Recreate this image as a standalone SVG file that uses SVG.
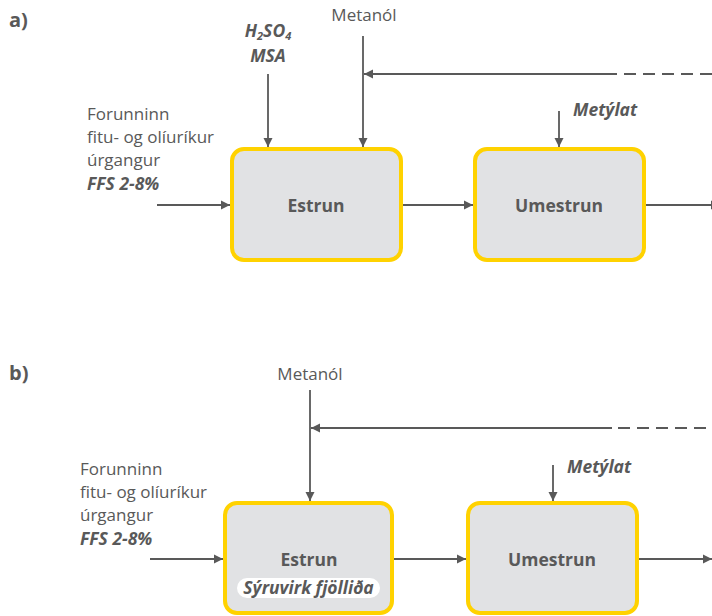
<svg xmlns="http://www.w3.org/2000/svg" width="712" height="616" viewBox="0 0 712 616">
  <style>
    .t { font-family: "Open Sans", "DejaVu Sans", sans-serif; fill: #595959; }
    .lbl { font-size: 17px; }
    .bi { font-size: 17.5px; font-weight: bold; font-style: italic; }
    .title { font-size: 20px; font-weight: bold; }
    .box { fill: #e1e2e4; stroke: #ffd200; stroke-width: 4; }
    .name { font-size: 17.5px; font-weight: bold; text-anchor: middle; }
    .ln { stroke: #595959; stroke-width: 1.8; fill: none; }
    .dash { stroke-dasharray: 12 7; }
  </style>
  <defs>
    <marker id="arr" viewBox="0 0 10 10" refX="10" refY="5" markerWidth="9" markerHeight="10" markerUnits="userSpaceOnUse" orient="auto">
      <path d="M0,0 L10,5 L0,10 z" fill="#595959"/>
    </marker>
  </defs>

  <!-- panel a -->
  <text class="t title" x="9" y="27">a)</text>
  <g id="a-acid"><text class="t bi" x="268" y="37" text-anchor="middle">H<tspan font-size="11" dy="3">2</tspan><tspan dy="-3">SO</tspan><tspan font-size="11" dy="3">4</tspan></text>
    <text class="t bi" x="268" y="62" text-anchor="middle">MSA</text></g>
  <g id="a-methanol"><text class="t lbl" x="364" y="21" text-anchor="middle">Metanól</text></g>
  <g id="a-feed"><text class="t lbl" x="87" y="120">Forunninn</text>
    <text class="t lbl" x="87" y="143">fitu- og olíuríkur</text>
    <text class="t lbl" x="87" y="166">úrgangur</text>
    <text class="t bi" x="87" y="190">FFS 2-8%</text></g>
  <g id="a-methylate"><text class="t bi" x="573" y="116">Metýlat</text></g>
  <g id="a-estrun"><rect class="box" x="232" y="149" width="169" height="111" rx="12"/>
    <text class="t name" x="316" y="212">Estrun</text></g>
  <g id="a-umestrun"><rect class="box" x="475" y="149" width="169" height="111" rx="12"/>
    <text class="t name" x="559" y="212">Umestrun</text></g>

  <g id="a-connectors">
    <line class="ln" x1="268" y1="74" x2="268" y2="147" marker-end="url(#arr)"/>
    <line class="ln" x1="363" y1="36" x2="363" y2="147" marker-end="url(#arr)"/>
    <line class="ln" x1="617" y1="74" x2="364" y2="74" marker-end="url(#arr)"/>
    <line class="ln dash" x1="624" y1="74" x2="712" y2="74"/>
    <line class="ln" x1="559" y1="111" x2="559" y2="147" marker-end="url(#arr)"/>
    <line class="ln" x1="157" y1="205" x2="230" y2="205" marker-end="url(#arr)"/>
    <line class="ln" x1="403" y1="205" x2="473" y2="205" marker-end="url(#arr)"/>
    <line class="ln" x1="646" y1="205" x2="720" y2="205" marker-end="url(#arr)"/>
  </g>

  <!-- panel b -->
  <text class="t title" x="9" y="380">b)</text>
  <g id="b-methanol"><text class="t lbl" x="310" y="380" text-anchor="middle">Metanól</text></g>
  <g id="b-feed"><text class="t lbl" x="80" y="475">Forunninn</text>
    <text class="t lbl" x="80" y="498">fitu- og olíuríkur</text>
    <text class="t lbl" x="80" y="521">úrgangur</text>
    <text class="t bi" x="80" y="545">FFS 2-8%</text></g>
  <g id="b-methylate"><text class="t bi" x="567" y="473">Metýlat</text></g>
  <g id="b-estrun"><rect class="box" x="225" y="503" width="167" height="110" rx="12"/>
    <text class="t name" x="309" y="566">Estrun</text>
    <rect x="237" y="578" width="143" height="20" rx="10" fill="#ffffff"/>
    <text class="t bi" x="308.5" y="594" text-anchor="middle" font-size="15.5">Sýruvirk fjölliða</text></g>
  <g id="b-umestrun"><rect class="box" x="468" y="503" width="169" height="110" rx="12"/>
    <text class="t name" x="552" y="566">Umestrun</text></g>

  <g id="b-connectors">
    <line class="ln" x1="310" y1="390" x2="310" y2="501" marker-end="url(#arr)"/>
    <line class="ln" x1="612" y1="428" x2="311" y2="428" marker-end="url(#arr)"/>
    <line class="ln dash" x1="618" y1="428" x2="712" y2="428"/>
    <line class="ln" x1="553" y1="465" x2="553" y2="501" marker-end="url(#arr)"/>
    <line class="ln" x1="150" y1="559" x2="223" y2="559" marker-end="url(#arr)"/>
    <line class="ln" x1="394" y1="559" x2="466" y2="559" marker-end="url(#arr)"/>
    <line class="ln" x1="639" y1="559" x2="712" y2="559" marker-end="url(#arr)"/>
  </g>
</svg>
